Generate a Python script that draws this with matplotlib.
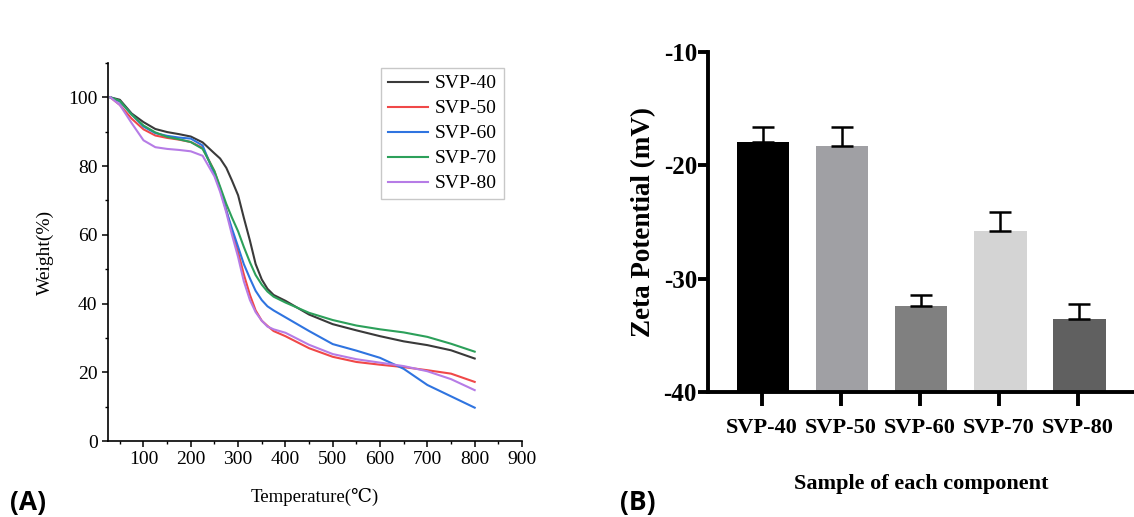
import matplotlib
matplotlib.use("Agg")
import matplotlib.pyplot as plt
from matplotlib.ticker import MultipleLocator
import numpy as np

plt.rcParams["axes.unicode_minus"] = False

# ---- Data (A): TGA curves ----
temps = [30, 50, 75, 100, 125, 150, 175, 200, 225, 250, 262, 275, 287, 300, 312, 325,
         337, 350, 362, 375, 400, 450, 500, 550, 600, 650, 700, 750, 800]
svp40 = [100, 99.3, 95.3, 92.8, 90.8, 89.9, 89.3, 88.6, 86.9, 83.7, 82.2, 79.5, 75.8, 71.5,
         65.0, 58.3, 51.5, 47.0, 44.3, 42.5, 40.8, 36.8, 34.0, 32.2, 30.5, 29.0, 27.9, 26.4, 24.0]
svp50 = [100, 97.8, 93.8, 90.7, 88.9, 88.2, 87.7, 87.0, 85.3, 78.5, 73.5, 67.2, 61.0, 55.0,
         48.5, 42.5, 38.0, 35.0, 33.5, 32.0, 30.5, 27.0, 24.5, 23.0, 22.2, 21.5, 20.6, 19.6, 17.2]
svp60 = [100, 98.8, 95.0, 91.5, 89.6, 88.8, 88.3, 88.0, 86.0, 77.5, 73.2, 67.0, 61.8, 56.5,
         51.5, 47.3, 43.7, 41.0, 39.2, 38.0, 36.0, 32.0, 28.2, 26.3, 24.2, 21.0, 16.3, 13.0, 9.7]
svp70 = [100, 99.0, 95.0, 91.8, 89.8, 88.5, 87.8, 87.0, 85.0, 78.5, 74.0, 69.0, 65.0, 61.0,
         56.5, 52.0, 48.3, 45.5, 43.5, 42.0, 40.3, 37.3, 35.2, 33.6, 32.5, 31.6, 30.3, 28.3, 26.0]
svp80 = [100, 97.8, 92.5, 87.5, 85.5, 85.0, 84.7, 84.3, 83.0, 77.0, 72.5, 66.5, 60.0, 53.5,
         46.5, 41.0, 37.5, 35.0, 33.3, 32.5, 31.5, 28.0, 25.3, 23.8, 22.8, 21.8, 20.3, 18.0, 14.8]
series_names = ["SVP-40", "SVP-50", "SVP-60", "SVP-70", "SVP-80"]
series_colors = ["#3a3a3a", "#f04848", "#2f74e0", "#2ca05a", "#b67ce6"]

# ---- Data (B): Zeta potential ----
samples = ["SVP-40", "SVP-50", "SVP-60", "SVP-70", "SVP-80"]
zeta = [-17.9, -18.3, -32.4, -25.8, -33.6]
zeta_err = [1.3, 1.7, 1.0, 1.7, 1.4]
bar_colors = ["#000000", "#a0a0a4", "#808080", "#d4d4d4", "#606060"]

serif = ["Liberation Serif", "DejaVu Serif"]

fig = plt.figure(figsize=(11.34, 5.17), dpi=100)

# ---------------- Panel A ----------------
axA = fig.add_axes([108/1134, 1-441/517, (522-108)/1134, (441-63)/517])
for name, ys, c in zip(series_names, [svp40, svp50, svp60, svp70, svp80], series_colors):
    axA.plot(temps, ys, color=c, lw=1.5, label=name, solid_joinstyle="round")
axA.set_xlim(25, 900)
axA.set_ylim(0, 110)
axA.xaxis.set_major_locator(MultipleLocator(100))
axA.xaxis.set_minor_locator(MultipleLocator(50))
axA.yaxis.set_major_locator(MultipleLocator(20))
axA.yaxis.set_minor_locator(MultipleLocator(10))
axA.set_xticks([100, 200, 300, 400, 500, 600, 700, 800, 900])
axA.spines["top"].set_visible(False)
axA.spines["right"].set_visible(False)
for s in ["left", "bottom"]:
    axA.spines[s].set_linewidth(1.2)
axA.tick_params(which="major", direction="out", length=4, width=1.1, labelsize=14)
axA.tick_params(which="minor", direction="out", length=2.5, width=1.0)
for lab in axA.get_xticklabels() + axA.get_yticklabels():
    lab.set_family(serif)
axA.set_xlabel("Temperature(℃)", family=serif, fontsize=13.5, labelpad=14)
axA.set_ylabel("Weight(%)", family=serif, fontsize=14, labelpad=10)
leg = axA.legend(loc="upper right", bbox_to_anchor=(1.0 - (522-504)/414, 1.0 - (68-63)/378),
                 frameon=True, fancybox=False, edgecolor="#bbbbbb",
                 prop={"family": serif, "size": 14}, handlelength=2.1,
                 borderpad=0.35, labelspacing=0.38, handletextpad=0.35, borderaxespad=0)
leg.get_frame().set_linewidth(1.0)

# ---------------- Panel B ----------------
axB = fig.add_axes([708/1134, 1-392/517, (1134-708)/1134, (392-52)/517])
x = np.arange(len(samples))
heights = [z - (-40) for z in zeta]
axB.bar(x + 0.02, heights, width=0.66, bottom=-40, color=bar_colors)
axB.errorbar(x + 0.02, zeta, yerr=[[0]*len(zeta), zeta_err], fmt="none",
             ecolor="black", elinewidth=1.8, capsize=8, capthick=1.8)
axB.set_ylim(-40, -10)
axB.set_xlim(-0.68, 4.71)
axB.set_yticks([-10, -20, -30, -40])
axB.set_xticks(x)
axB.set_xticklabels(samples)
axB.spines["top"].set_visible(False)
axB.spines["right"].set_visible(False)
for s in ["left", "bottom"]:
    axB.spines[s].set_linewidth(2.8)
axB.tick_params(axis="y", direction="out", length=7.5, width=2.8, labelsize=18, pad=0.5)
axB.tick_params(axis="x", direction="out", length=10, width=2.8, labelsize=16, pad=9)
for lab in axB.get_xticklabels() + axB.get_yticklabels():
    lab.set_family(serif)
    lab.set_fontweight("bold")
axB.set_ylabel("Zeta Potential (mV)", family=serif, fontsize=19.5, fontweight="bold", labelpad=5)
axB.set_xlabel("Sample of each component", family=serif, fontsize=16, fontweight="bold", labelpad=26)

# Panel letters
fig.text(10/1134, 1-516/517, "(A)", family=["Open Sans", "DejaVu Sans"], fontweight="bold",
         fontsize=19, va="bottom")
fig.text(620/1134, 1-516/517, "(B)", family=["Open Sans", "DejaVu Sans"], fontweight="bold",
         fontsize=19, va="bottom")

fig.savefig("out.png", dpi=100)
